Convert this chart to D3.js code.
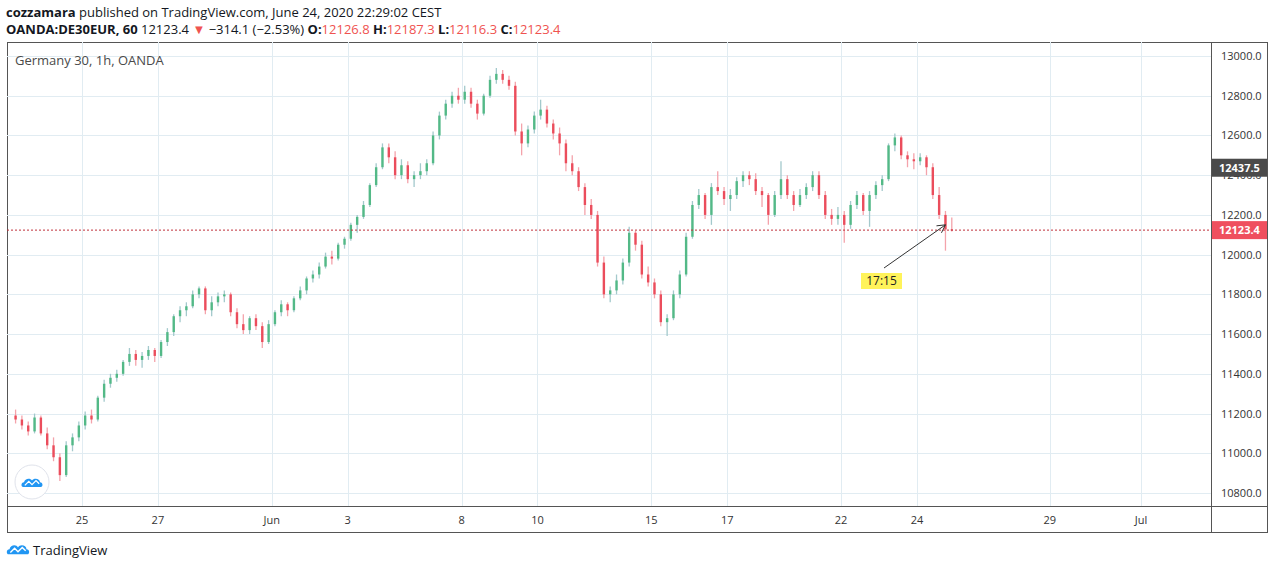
<!DOCTYPE html>
<html>
<head>
<meta charset="utf-8">
<script src="https://cdnjs.cloudflare.com/ajax/libs/d3/7.8.5/d3.min.js"></script>
<style>
  body { margin: 0; background: #fff; font-family: "Open Sans", "Liberation Sans", sans-serif; }
  svg text { font-family: "Open Sans", "Liberation Sans", sans-serif; }
</style>
</head>
<body>
<svg id="chart" width="1274" height="569"></svg>
<script>
  'use strict';

  // first trading day index of the data, 6 candles (4h) per day, day 0 = May 25
  var firstDay = -2, firstSlot = 1, slotsPerDay = 6;

  // [open, high, low, close]
  var candles = [
    [11190,11220,11150,11170],[11170,11190,11120,11140],[11140,11160,11090,11110],[11110,11200,11100,11180],[11180,11190,11090,11100],
    [11100,11130,11020,11040],[11040,11080,10960,10980],[10980,11000,10860,10890],[10890,11060,10880,11040],[11040,11100,11010,11080],[11080,11160,11060,11140],
    [11140,11210,11120,11190],[11190,11220,11150,11170],[11170,11290,11160,11280],[11280,11370,11260,11350],[11350,11400,11330,11380],[11380,11420,11360,11400],
    [11400,11470,11390,11460],[11460,11530,11440,11500],[11500,11520,11440,11470],[11470,11510,11430,11490],[11490,11540,11470,11520],[11520,11530,11460,11490],
    [11490,11570,11480,11560],[11560,11630,11540,11610],[11610,11700,11590,11690],[11690,11740,11660,11720],[11720,11760,11690,11740],[11740,11820,11730,11800],
    [11800,11840,11780,11830],[11830,11840,11700,11720],[11720,11790,11690,11760],[11760,11810,11740,11790],[11790,11820,11760,11800],[11800,11810,11690,11710],
    [11710,11730,11630,11650],[11650,11700,11600,11620],[11620,11690,11600,11680],[11680,11700,11620,11640],[11640,11660,11530,11560],[11560,11670,11550,11650],
    [11650,11720,11640,11710],[11710,11770,11690,11750],[11750,11760,11690,11720],[11720,11790,11710,11780],[11780,11840,11770,11820],[11820,11890,11800,11880],
    [11880,11920,11860,11900],[11900,11960,11880,11940],[11940,12010,11930,11990],[11990,12020,11950,11980],[11980,12060,11970,12050],[12050,12090,12030,12080],
    [12080,12160,12070,12150],[12150,12200,12110,12190],[12190,12270,12180,12250],[12250,12360,12240,12350],[12350,12460,12340,12440],[12440,12560,12430,12540],
    [12540,12560,12460,12490],[12490,12520,12380,12400],[12400,12480,12380,12450],[12450,12470,12360,12380],[12380,12420,12340,12400],[12400,12460,12380,12420],
    [12420,12480,12400,12460],[12460,12620,12450,12600],[12600,12720,12580,12700],[12700,12780,12680,12760],[12760,12820,12740,12800],[12800,12840,12760,12780],
    [12780,12850,12760,12820],[12820,12840,12740,12760],[12760,12780,12680,12710],[12710,12810,12700,12800],[12800,12900,12790,12880],[12880,12940,12860,12910],
    [12910,12930,12860,12880],[12880,12900,12830,12850],[12850,12870,12600,12620],[12620,12660,12500,12560],[12560,12650,12540,12630],[12630,12720,12610,12700],
    [12700,12780,12680,12730],[12730,12750,12640,12660],[12660,12680,12580,12610],[12610,12640,12500,12560],[12560,12580,12420,12460],[12460,12500,12400,12420],
    [12420,12440,12320,12340],[12340,12360,12200,12250],[12250,12280,12180,12200],[12200,12220,11940,11960],[11960,11990,11780,11800],[11800,11840,11760,11820],
    [11820,11900,11800,11870],[11870,11980,11850,11960],[11960,12140,11940,12110],[12110,12120,12020,12050],[12050,12070,11880,11900],[11900,11940,11840,11860],
    [11860,11880,11780,11800],[11800,11820,11640,11660],[11660,11700,11590,11680],[11680,11820,11670,11800],[11800,11920,11780,11900],[11900,12110,11890,12090],
    [12090,12270,12080,12250],[12250,12330,12230,12300],[12300,12310,12180,12200],[12200,12360,12150,12340],[12340,12420,12300,12320],[12320,12340,12250,12280],
    [12280,12330,12220,12300],[12300,12390,12280,12370],[12370,12420,12340,12400],[12400,12420,12350,12380],[12380,12410,12300,12320],[12320,12340,12240,12300],
    [12300,12310,12150,12200],[12200,12320,12190,12300],[12300,12470,12280,12380],[12380,12400,12280,12300],[12300,12320,12220,12250],[12250,12330,12240,12300],
    [12300,12360,12280,12340],[12340,12420,12320,12400],[12400,12420,12280,12300],[12300,12320,12180,12200],[12200,12230,12150,12180],[12180,12240,12150,12200],
    [12200,12220,12060,12150],[12150,12270,12130,12250],[12250,12320,12230,12300],[12300,12310,12200,12220],[12220,12320,12140,12300],[12300,12370,12280,12350],
    [12350,12400,12320,12380],[12380,12560,12370,12550],[12550,12610,12520,12590],[12590,12600,12480,12500],[12500,12520,12440,12480],[12480,12510,12430,12470],
    [12470,12510,12450,12490],[12490,12500,12400,12440],[12440,12460,12280,12300],[12300,12340,12180,12200],[12200,12220,12020,12127],[12126.8,12187.3,12116.3,12123.4]
  ];

  // x axis ticks: label and trading-day index
  var tickLabels = ['25', '27', 'Jun', '3', '8', '10', '15', '17', '22', '24', '29', 'Jul'];
  var tickDays = [0, 2, 5, 7, 10, 12, 15, 17, 20, 22, 25.5, 27.9];
  var priceTicks = [10800, 11000, 11200, 11400, 11600, 11800, 12000, 12200, 12400, 12600, 12800, 13000];
  var lastPrice = 12123.4, prevClose = 12437.5;

  var svg = d3.select('#chart');
  var plot = {left: 7, right: 1211, top: 42, bottom: 506, frameRight: 1267, frameBottom: 532};

  var x = d3.scaleLinear().domain([0, 22]).range([82, 917]);
  var y = d3.scaleLinear().domain([10800, 13000]).range([493, 56]);

  // header
  var h1 = svg.append('text').attr('x', 6).attr('y', 17).attr('font-size', 13).attr('fill', '#131722');
  h1.append('tspan').attr('font-weight', 'bold').text('cozzamara');
  h1.append('tspan').text(' published on TradingView.com, June 24, 2020 22:29:02 CEST');
  var h2 = svg.append('text').attr('x', 6).attr('y', 34).attr('font-size', 13).attr('fill', '#131722');
  h2.append('tspan').attr('font-weight', 'bold').text('OANDA:DE30EUR, 60');
  h2.append('tspan').text('  12123.4 ');
  h2.append('tspan').attr('fill', '#ef5350').text('▼');
  h2.append('tspan').text(' −314.1 (−2.53%) ');
  [['O:', '12126.8'], ['H:', '12187.3'], ['L:', '12116.3'], ['C:', '12123.4']].forEach(function (p) {
    h2.append('tspan').attr('font-weight', 'bold').text(p[0]);
    h2.append('tspan').attr('fill', '#ef5350').text(p[1] + ' ');
  });

  // frame
  svg.append('rect').attr('x', plot.left + 0.5).attr('y', plot.top + 0.5)
    .attr('width', plot.frameRight - plot.left).attr('height', plot.frameBottom - plot.top)
    .attr('fill', 'none').attr('stroke', '#555');

  // grid
  var grid = svg.append('g').attr('stroke', '#e1ecf2').attr('stroke-width', 1);
  grid.selectAll('line.v').data(tickDays).enter().append('line')
    .attr('x1', d => Math.round(x(d)) + 0.5).attr('x2', d => Math.round(x(d)) + 0.5)
    .attr('y1', plot.top).attr('y2', plot.bottom);
  grid.selectAll('line.h').data(priceTicks).enter().append('line')
    .attr('x1', plot.left).attr('x2', plot.right)
    .attr('y1', d => Math.round(y(d)) + 0.5).attr('y2', d => Math.round(y(d)) + 0.5);

  // axes separators
  svg.append('line').attr('x1', plot.right + 0.5).attr('x2', plot.right + 0.5)
    .attr('y1', plot.top).attr('y2', plot.frameBottom).attr('stroke', '#555');
  svg.append('line').attr('x1', plot.left).attr('x2', plot.frameRight)
    .attr('y1', plot.bottom + 0.5).attr('y2', plot.bottom + 0.5).attr('stroke', '#555');

  // axis labels
  svg.append('g').selectAll('text').data(priceTicks).enter().append('text')
    .attr('x', 1221).attr('y', d => y(d) + 4).attr('font-size', 11).attr('fill', '#333')
    .text(d => d.toFixed(1));
  svg.append('g').selectAll('text').data(tickDays).enter().append('text')
    .attr('x', d => x(d)).attr('y', 524).attr('text-anchor', 'middle')
    .attr('font-size', 11).attr('fill', '#333').text((d, i) => tickLabels[i]);

  // title
  svg.append('text').attr('x', 15).attr('y', 65).attr('font-size', 13).attr('fill', '#4a4a4a')
    .text('Germany 30, 1h, OANDA');

  // candles
  var step = x(1) - x(0);
  function cx(i) {
    var n = i + firstSlot;
    return x(firstDay + (n + 0.5) / slotsPerDay);
  }
  var cg = svg.append('g');
  cg.selectAll('line').data(candles).enter().append('line')
    .attr('x1', (d, i) => cx(i)).attr('x2', (d, i) => cx(i))
    .attr('y1', d => y(d[1])).attr('y2', d => y(d[2]))
    .attr('stroke', d => d[3] >= d[0] ? '#a3c9cc' : '#f4a3ab').attr('stroke-width', 1.3);
  cg.selectAll('rect').data(candles).enter().append('rect')
    .attr('x', (d, i) => cx(i) - 1.2).attr('width', 2.4)
    .attr('y', d => y(Math.max(d[0], d[3])))
    .attr('height', d => Math.max(1, Math.abs(y(d[0]) - y(d[3]))))
    .attr('fill', d => d[3] >= d[0] ? '#53b987' : '#eb4d5c');

  // last price line
  svg.append('line').attr('x1', plot.left).attr('x2', plot.right)
    .attr('y1', y(lastPrice)).attr('y2', y(lastPrice))
    .attr('stroke', '#c0303a').attr('stroke-dasharray', '2,2').attr('stroke-width', 1);

  // price labels
  function priceTag(p, fill) {
    svg.append('rect').attr('x', plot.right + 1).attr('y', y(p) - 9)
      .attr('width', plot.frameRight - plot.right - 1).attr('height', 18).attr('fill', fill);
    svg.append('text').attr('x', 1219).attr('y', y(p) + 4).attr('font-size', 11)
      .attr('font-weight', 'bold').attr('fill', '#fff').text(p.toFixed(1));
  }
  priceTag(prevClose, '#4a4a4a');
  priceTag(lastPrice, '#ef4f5e');

  // annotation
  var tip = [cx(candles.length - 2), y(12150)];
  svg.append('line').attr('x1', 884).attr('y1', 268).attr('x2', tip[0]).attr('y2', tip[1])
    .attr('stroke', '#333').attr('stroke-width', 1);
  svg.append('path')
    .attr('d', 'M' + (tip[0] - 9) + ',' + (tip[1] + 1) + 'L' + tip[0] + ',' + tip[1] + 'L' + (tip[0] - 4) + ',' + (tip[1] + 8))
    .attr('fill', 'none').attr('stroke', '#333');
  svg.append('rect').attr('x', 861).attr('y', 273).attr('width', 41).attr('height', 16).attr('fill', '#fff35a');
  svg.append('text').attr('x', 881.5).attr('y', 285).attr('text-anchor', 'middle')
    .attr('font-size', 12).attr('fill', '#222').text('17:15');

  // tradingview badge in plot
  svg.append('circle').attr('cx', 32).attr('cy', 482).attr('r', 17)
    .attr('fill', '#fff').attr('stroke', '#e0e3eb').attr('stroke-width', 1);
  function cloud(g, s) {
    g.append('path').attr('fill', '#2196f3')
      .attr('d', 'M-11,5 C-14,5 -14,-1 -10,-1 C-9,-6 -2,-7 0,-3 C2,-7 10,-6 10,-1 C14,-1 14,5 11,5 Z')
      .attr('transform', 'scale(' + s + ')');
    g.append('path').attr('fill', 'none').attr('stroke', '#fff').attr('stroke-width', 1.6)
      .attr('d', 'M-9,3 L-4,-2 L0,2 L5,-3 L9,1').attr('transform', 'scale(' + s + ')');
  }
  cloud(svg.append('g').attr('transform', 'translate(32,483)'), 0.8);

  // footer logo
  cloud(svg.append('g').attr('transform', 'translate(18,550)'), 0.85);
  svg.append('text').attr('x', 33).attr('y', 555).attr('font-size', 13).attr('fill', '#131722')
    .text('TradingView');
</script>
</body>
</html>
